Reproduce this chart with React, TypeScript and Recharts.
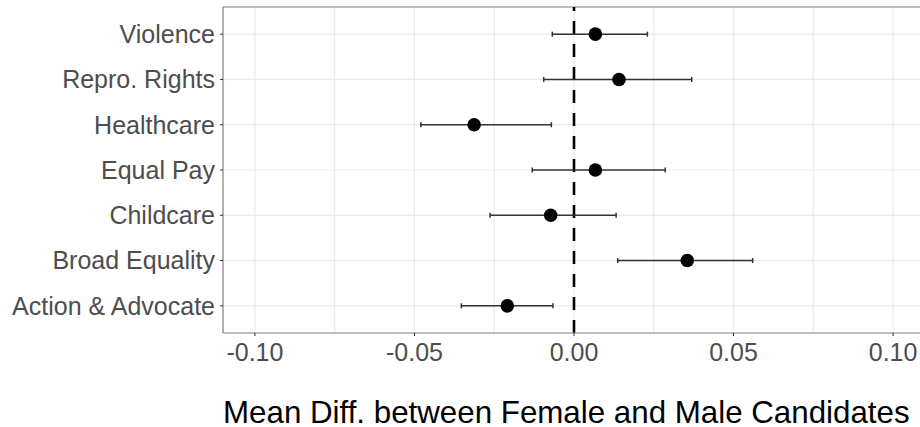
import React from 'react';
import {
  ScatterChart,
  Scatter,
  XAxis,
  YAxis,
  CartesianGrid,
  ErrorBar,
  ReferenceLine,
} from 'recharts';

const categories = [
  'Violence',
  'Repro. Rights',
  'Healthcare',
  'Equal Pay',
  'Childcare',
  'Broad Equality',
  'Action & Advocate',
];
const estimates = [0.0067, 0.0141, -0.0313, 0.0067, -0.0073, 0.0355, -0.0209];
const lowerCI = [-0.0068, -0.0095, -0.048, -0.0131, -0.0263, 0.0137, -0.0353];
const upperCI = [0.023, 0.0369, -0.0071, 0.0286, 0.0132, 0.056, -0.0066];
const xTicks = [-0.1, -0.05, 0, 0.05, 0.1];
const xGrid = [-0.1, -0.075, -0.05, -0.025, 0, 0.025, 0.05, 0.075, 0.1];

const n = categories.length;
const yTicks = categories.map((_, i) => n - i);

const data = categories.map((c, i) => ({
  name: c,
  x: estimates[i],
  y: n - i,
  err: [estimates[i] - lowerCI[i], upperCI[i] - estimates[i]],
}));

const FONT = '"Liberation Sans", Arial, Helvetica, sans-serif';

const Dot = (props: any) => {
  const { cx, cy } = props;
  if (cx == null || cy == null) return null;
  return <circle cx={cx} cy={cy} r={6.8} fill="#000000" />;
};

const Title = (props: any) => {
  const vb = props.viewBox || {};
  return (
    <text
      x={vb.x}
      y={vb.y + 90}
      textAnchor="start"
      fontFamily={FONT}
      fontSize={31.3}
      fill="#000000"
    >
      Mean Diff. between Female and Male Candidates
    </text>
  );
};

export default function App() {
  return (
    <div
      style={{
        position: 'fixed',
        left: 0,
        top: 0,
        width: 920,
        height: 427,
        overflow: 'hidden',
        background: '#ffffff',
      }}
    >
      <ScatterChart
        width={926}
        height={427}
        margin={{ top: 7, right: 1, bottom: 0, left: 0 }}
        style={{ fontFamily: FONT }}
      >
        <CartesianGrid
          stroke="#EBEBEB"
          strokeWidth={1.2}
          verticalValues={xGrid}
          horizontalValues={yTicks}
        />
        <XAxis
          type="number"
          dataKey="x"
          domain={[-0.11, 0.11]}
          allowDataOverflow
          ticks={xTicks}
          tickFormatter={(v: number) => v.toFixed(2)}
          height={94}
          tickSize={3}
          tickMargin={7}
          tick={{ fill: '#4D4D4D', fontSize: 25, fontFamily: FONT }}
          tickLine={{ stroke: '#333333', strokeWidth: 1 }}
          axisLine={{ stroke: '#7F7F7F', strokeWidth: 1.2 }}
          label={{ content: <Title /> } as any}
        />
        <YAxis
          type="number"
          dataKey="y"
          domain={[0.4, n + 0.6]}
          allowDataOverflow
          ticks={yTicks}
          tickFormatter={(v: number) => categories[n - v] ?? ''}
          width={223}
          tickSize={3}
          tickMargin={5}
          interval={0}
          tick={{ fill: '#4D4D4D', fontSize: 25, fontFamily: FONT }}
          tickLine={{ stroke: '#333333', strokeWidth: 1 }}
          axisLine={{ stroke: '#7F7F7F', strokeWidth: 1.2 }}
        />
        <ReferenceLine y={n + 0.6} stroke="#7F7F7F" strokeWidth={1.2} />
        <ReferenceLine
          x={0}
          stroke="#000000"
          strokeWidth={2.6}
          strokeDasharray="13 10"
        />
        <Scatter data={data} shape={<Dot />} isAnimationActive={false}>
          <ErrorBar
            dataKey={(d: any) => d.err}
            direction="x"
            width={2.5}
            stroke="#333333"
            strokeWidth={1.5}
            isAnimationActive={false}
          />
        </Scatter>
      </ScatterChart>
    </div>
  );
}
